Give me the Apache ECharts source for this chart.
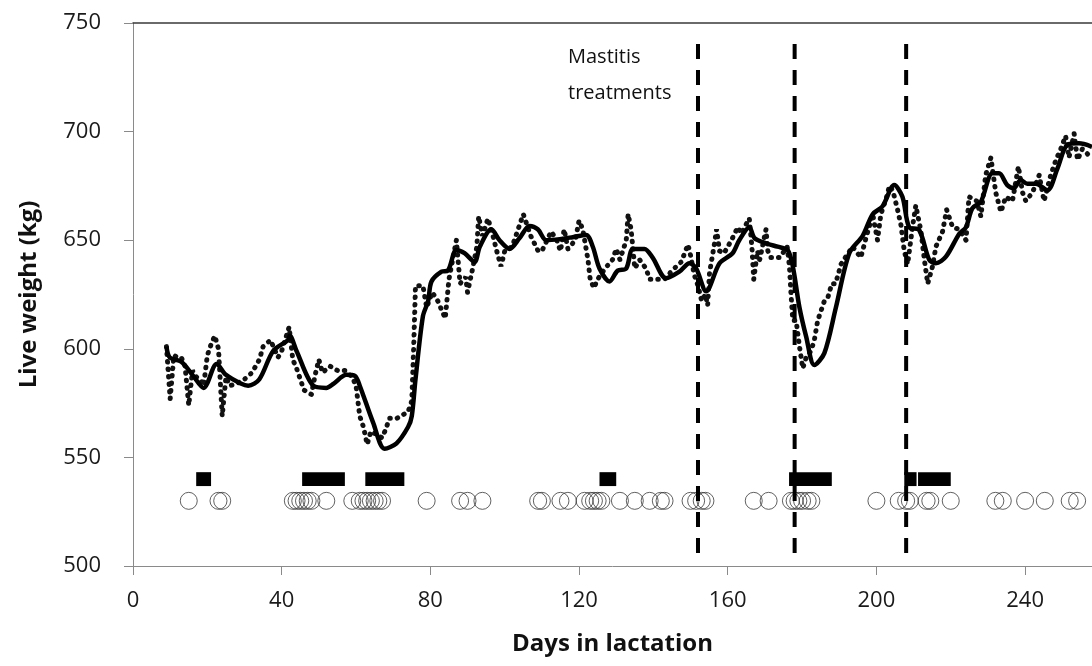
<!DOCTYPE html>
<html>
<head>
<meta charset="utf-8">
<script src="https://cdn.jsdelivr.net/npm/echarts@6/dist/echarts.min.js"></script>
<style>
  html, body { margin: 0; padding: 0; background: #fff; }
  #main { width: 1092px; height: 666px; }
</style>
</head>
<body>
<div id="main"></div>
<script>
// daily live weight (dotted)
var dailyWeight = [
  [9,601],[10,577],[11,597],[12,596],[13,596],[14,592],[15,574],[16,590],[17,587],[18,586],
  [19,583],[20,597],[21,602],[22,606],[23,600],[24,569],[25,587],[26,583],[28,584],[30,586],
  [32,589],[34,595],[35,601],[37,604],[39,596],[40,599],[42,610],[43,595],[44,591],[45,586],
  [46,581],[48,579],[49,588],[50,595],[51,589],[53,592],[55,590],[57,590],[59,587],[60,583],
  [61,569],[62,564],[63,556],[64,562],[66,560],[67,559],[68,563],[69,568],[71,568],[73,570],
  [74,571],[75,576],[75.5,600],[76,629],[78,629],[79,619],[80.5,626],[82,622],[83,618],[84,614],
  [85,632],[87,650],[88,630],[89.5,633],[90,626],[91.5,638],[92.5,647],[93,661],[94,652],[95.5,660],
  [97,651],[97.7,646],[99,638],[100,645],[102,647],[104,657],[105,662],[107,652],[109,645],[110,645],
  [112.5,654],[114,650],[115,645],[116,655],[117,646],[119,650],[120,659],[121,655],[122.4,641],[123,632],
  [124,628],[125,632],[127,637],[129,641],[130,646],[131,641],[132.7,650],[133.2,662],[134,655],[135,637],
  [136.3,641],[138,637],[139,632],[141,632],[143,632],[145,636],[147.5,640],[149.3,648],[150,643],[151,634],
  [152,629],[153,622],[154,625],[154.6,620],[155.1,635],[156.4,648],[157,655],[157.8,645],[159,644],[161,650],
  [162.7,656],[163.6,653],[165.8,660],[166.5,647],[167,632],[168,645],[168.6,641],[170.3,655],[170.8,645],[171.6,642],
  [174,642],[176,647],[176.6,638],[177,626],[177.5,613],[178.4,613],[179.3,601],[180.2,591],[181.1,596],[182.4,599],
  [183.3,604],[184.2,613],[186,622],[187,624],[188,630],[189,630],[190.5,639],[192,643],[193.6,647],[195.8,642],
  [197.2,651],[199,662],[200.3,650],[201.2,662],[202.6,669],[203.5,675],[204.4,673],[205.7,664],[206.6,657],[207.5,645],
  [208.4,639],[209.7,656],[210.6,666],[211.3,660],[212,654],[212.9,641],[213.8,630],[215.1,638],[216,647],[217.8,654],
  [218.9,664],[220.5,656],[222.3,655],[224.1,650],[224.9,670],[227,668],[228.1,661],[229.4,680],[230.8,688],[232.1,672],
  [233.5,663],[234.8,670],[236.6,668],[238.2,684],[239.3,672],[240.2,668],[242,672],[243.8,680],[245.1,668],[246.9,680],
  [248.3,687],[249.6,692],[250.9,698],[251.8,688],[253.2,699],[254.1,687],[255.4,692],[257.2,689],[258,688]
];

// smoothed live weight (solid)
var smoothWeight = [
  [9,601],[9.9,596],[13,594],[16,588],[19,582],[22.5,593],[25,588],[29,584],[31,583],[34,586],
  [37.7,599],[41.7,604],[42.2,606],[44,599],[48.5,583],[52,582],[54,584],[57.4,588],[59.7,587.5],[61,583],
  [64.6,566],[67.7,554],[70.9,556.5],[74,564],[75,569],[76,586],[78,615],[79.4,622],[80.3,631],[83,635.5],
  [84.7,636],[87,645.5],[89.2,644],[91.9,640],[93.3,647],[96.4,655],[98.6,650],[101.3,646],[104,651],[106.7,656.5],
  [108.9,655],[111.2,650],[114.8,650.5],[118.3,651.4],[121.9,652.4],[123.7,647],[125.5,637],[128.2,631],[130.4,636],[132.7,637],
  [134.5,646],[137.6,646],[139.8,642],[143.4,632.5],[147,635.5],[149.7,639.4],[151.5,637],[154.2,626.5],[157.8,639.4],[161.3,644],
  [163.1,650],[165.8,656],[167.2,651],[170.3,648.6],[173.4,647],[176.1,645.5],[177.5,638],[179.3,619],[181.1,605.6],[183.3,592.5],
  [186,598],[189.1,619],[192.7,644],[196.3,652],[199,662],[201.6,665.5],[204.8,675.4],[207,670],[208.8,656],[211.5,654.7],
  [214.2,641],[216,639.4],[218.7,642.4],[222.3,653],[224.1,656],[225.8,664.7],[228.1,667.7],[231.2,680.8],[233,680.8],[235.2,675.4],
  [237,674],[238.8,677.7],[240.6,676],[242.9,676],[246,673],[248.7,683],[251.4,694],[254.5,694.6],[258,693]
];

// mastitis treatment days
var treatmentDays = [152, 178, 208];

// periods (start day, end day) shown as black bars
var barPeriods = [[17,21],[45.5,57],[62.5,73],[125.5,130],[176.5,188],[207.5,210.8],[211.2,220]];

// days shown as open circles
var circleDays = [15,23,24,43,44,45,46,47,48,52,59,61,62,63,64,65,66,67,79,88,90,94,
  109,110,115,117,121.5,123,124,125,126,131,135,139,142,143,150,151.5,153,154,167,171,
  177,178,179,180,181.5,182.5,200,206,208,209,213.5,214.5,220,232,234,240,245.3,252,254];

var xTicks = [0, 40, 80, 120, 160, 200, 240];
var yTicks = [500, 550, 600, 650, 700, 750];

var FONT = '"Open Sans", "Noto Sans", sans-serif';
var chart = echarts.init(document.getElementById('main'));

var series = [];
series.push({
  type: 'line',
  data: dailyWeight,
  showSymbol: false,
  z: 3,
  lineStyle: { color: '#111', width: 5, type: [0.5, 7], cap: 'round' }
});
series.push({
  type: 'line',
  data: smoothWeight,
  showSymbol: false,
  smooth: 0.3,
  z: 4,
  lineStyle: { color: '#000', width: 4.5 }
});
treatmentDays.forEach(function (d) {
  series.push({
    type: 'line',
    data: [[d, 506], [d, 742]],
    showSymbol: false,
    z: 5,
    lineStyle: { color: '#000', width: 4, type: [15, 11] }
  });
});
series.push({
  type: 'custom',
  data: barPeriods,
  z: 2,
  renderItem: function (params, api) {
    var p0 = api.coord([api.value(0), 543.2]);
    var p1 = api.coord([api.value(1), 536.8]);
    return {
      type: 'rect',
      shape: { x: p0[0], y: p0[1], width: p1[0] - p0[0], height: p1[1] - p0[1] },
      style: { fill: '#000' }
    };
  }
});
series.push({
  type: 'scatter',
  data: circleDays.map(function (d) { return [d, 530]; }),
  symbol: 'circle',
  symbolSize: 17,
  z: 2,
  itemStyle: { color: 'rgba(0,0,0,0)', borderColor: '#3a3a3a', borderWidth: 1 }
});

var option = {
  animation: false,
  backgroundColor: '#fff',
  grid: { left: 133, right: 0, top: 23, bottom: 100 },
  xAxis: [{
    type: 'value',
    min: 0,
    max: 258,
    interval: 40,
    position: 'bottom',
    name: 'Days in lactation',
    nameLocation: 'middle',
    nameGap: 66,
    nameTextStyle: { fontFamily: FONT, fontSize: 24, fontWeight: 'bold', color: '#111' },
    axisLine: { lineStyle: { color: '#8a8a8a', width: 1 } },
    axisTick: { show: true, length: 9, lineStyle: { color: '#8a8a8a' } },
    splitLine: { show: false },
    axisLabel: {
      margin: 24,
      fontFamily: FONT,
      fontSize: 22,
      color: '#1a1a1a',
      showMaxLabel: false,
      formatter: function (v) { return xTicks.indexOf(v) >= 0 ? String(v) : ''; }
    }
  }, {
    type: 'value',
    min: 0,
    max: 258,
    position: 'top',
    axisLine: { show: true, lineStyle: { color: '#3a3a3a', width: 1.5 } },
    axisTick: { show: false },
    axisLabel: { show: false },
    splitLine: { show: false }
  }],
  yAxis: {
    type: 'value',
    min: 500,
    max: 750,
    interval: 50,
    name: 'Live weight (kg)',
    nameLocation: 'middle',
    nameGap: 92,
    nameTextStyle: { fontFamily: FONT, fontSize: 24, fontWeight: 'bold', color: '#111' },
    axisLine: { show: true, lineStyle: { color: '#8a8a8a', width: 1 } },
    axisTick: { show: true, length: 9, lineStyle: { color: '#8a8a8a' } },
    splitLine: { show: false },
    axisLabel: {
      margin: 32,
      fontFamily: FONT,
      fontSize: 22,
      color: '#1a1a1a',
      formatter: function (v) { return yTicks.indexOf(v) >= 0 ? String(v) : ''; }
    }
  },
  graphic: [{
    type: 'text',
    left: 568,
    top: 39,
    style: { text: 'Mastitis\ntreatments', font: '20px ' + FONT, lineHeight: 36, fill: '#111' }
  }],
  series: series
};
chart.setOption(option);
</script>
</body>
</html>
